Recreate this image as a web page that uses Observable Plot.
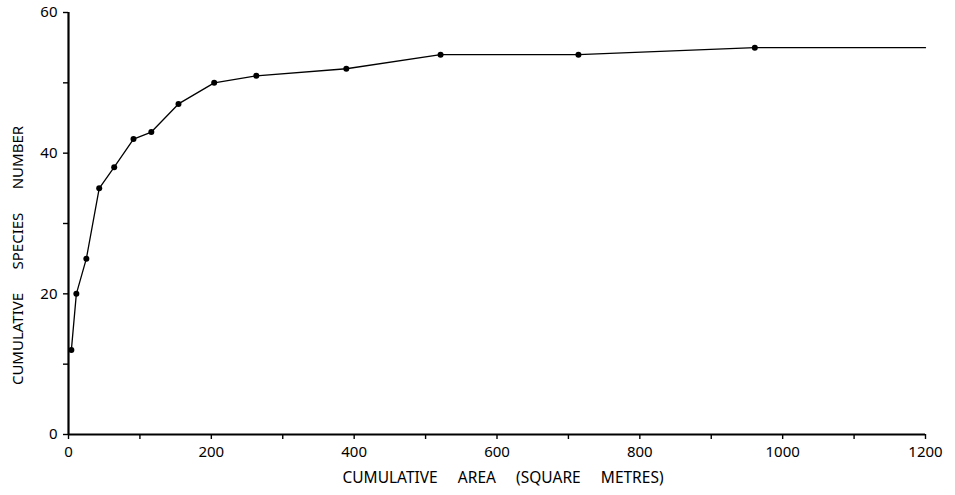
<!DOCTYPE html>
<html>
<head>
<meta charset="utf-8">
<script src="https://cdn.jsdelivr.net/npm/d3@7"></script>
<script src="https://cdn.jsdelivr.net/npm/@observablehq/plot@0.6"></script>
<style>
  html, body { margin: 0; padding: 0; background: #fff; }
  svg { font-family: "Noto Sans", sans-serif; }
</style>
</head>
<body>
<div id="chart"></div>
<script>
// Cumulative area sampled (square metres) and cumulative species number
const areas   = [4, 11, 25, 43, 64, 91, 116, 154, 204, 263, 389, 521, 714, 961, 1200];
const species = [12, 20, 25, 35, 38, 42, 43, 47, 50, 51, 52, 54, 54, 55, 55];
// the last vertex is the line's end, drawn without a dot
const hasDot  = [1, 1, 1, 1, 1, 1, 1, 1, 1, 1, 1, 1, 1, 1, 0];

const xTicks = [0, 100, 200, 300, 400, 500, 600, 700, 800, 900, 1000, 1100, 1200];
const xTickLabels = [0, 200, 400, 600, 800, 1000, 1200];
const yTicks = [0, 10, 20, 30, 40, 50, 60];
const yTickLabels = [0, 20, 40, 60];

const xLabel = "CUMULATIVE     AREA     (SQUARE     METRES)";
const yLabel = "CUMULATIVE      SPECIES      NUMBER";

const data = areas.map((a, i) => ({area: a, species: species[i], dot: hasDot[i]}));

const chart = Plot.plot({
  width: 955,
  height: 495,
  marginLeft: 68,
  marginRight: 30,
  marginTop: 12,
  marginBottom: 61,
  style: {fontSize: "15px", color: "#000", background: "#fff", whiteSpace: "pre"},
  x: {domain: [0, 1200]},
  y: {domain: [0, 60]},
  marks: [
    Plot.axisX({ticks: xTicks, tickSize: 5, stroke: "#000", strokeWidth: 1.4, label: null, text: null}),
    Plot.axisX({ticks: xTickLabels, tickSize: 0, tickPadding: 12, tickFormat: d => String(d), label: null, fill: "#000"}),
    Plot.axisY({ticks: yTicks, tickSize: 5, stroke: "#000", strokeWidth: 1.4, label: null, text: null}),
    Plot.axisY({ticks: yTickLabels, tickSize: 0, tickPadding: 11, tickFormat: d => String(d), label: null, fill: "#000"}),
    Plot.ruleX([0], {stroke: "#000", strokeWidth: 2.2}),
    Plot.ruleY([0], {stroke: "#000", strokeWidth: 2.2}),
    Plot.line(data, {x: "area", y: "species", stroke: "#000", strokeWidth: 1.3}),
    Plot.dot(data.filter(d => d.dot), {x: "area", y: "species", r: 3, fill: "#000", stroke: "none"}),
    Plot.text([xLabel], {frameAnchor: "bottom", dy: 48, dx: 6, fontSize: 15.5, fill: "#000", text: d => d}),
    Plot.text([yLabel], {frameAnchor: "left", textAnchor: "middle", rotate: -90, dx: -50, dy: 32, fontSize: 15, fill: "#000", text: d => d})
  ]
});
document.getElementById("chart").appendChild(chart);
</script>
</body>
</html>
